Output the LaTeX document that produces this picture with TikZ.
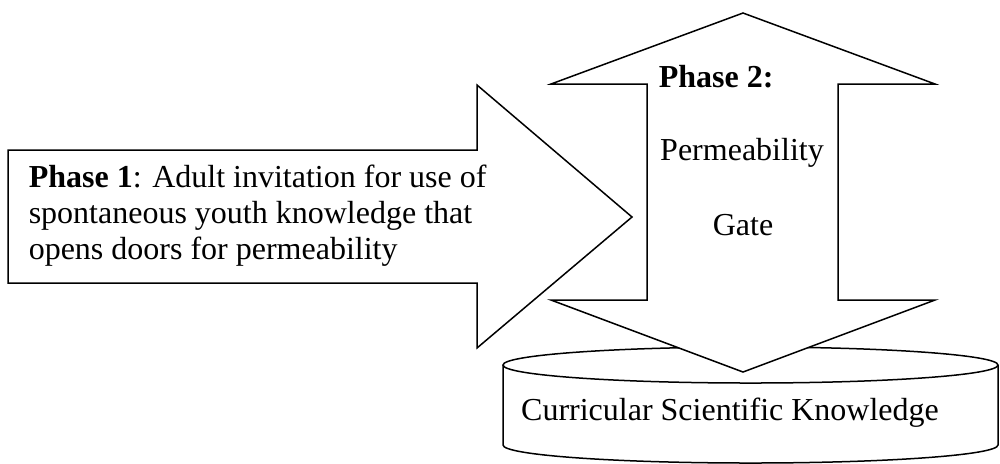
\documentclass[tikz,border=0pt]{standalone}
\usepackage{fontspec}
\setmainfont{Liberation Serif}
\usetikzlibrary{calc}

\begin{document}
\begin{tikzpicture}[x=0.4pt, y=-0.4pt, line width=0.6pt,
        shape_style/.style={draw=black, fill=white, line join=miter},
        text_style/.style={inner sep=0pt, font=\fontsize{12.8}{14.4}\selectfont},
        bold_style/.style={inner sep=0pt, font=\fontsize{12.8}{14.4}\selectfont\bfseries}]
        \useasboundingbox (0,0) rectangle (1000,463);

        % knowledge base (cylinder)
        \draw [shape_style] (503,365) -- (503,445) arc[start angle=180, end angle=0, x radius=247.5, y radius=18] -- (998,365);
        \draw [shape_style] (750.5,365) ellipse [x radius=247.5, y radius=18];

        % phase 2: double arrow
        \draw [shape_style] (743,13) -- (935,84) -- (838,84) -- (838,300) -- (935,300) -- (743,372)
            -- (551,300) -- (647,300) -- (647,84) -- (551,84) -- cycle;

        % phase 1: right arrow
        \draw [shape_style] (8,150) -- (477,150) -- (477,85) -- (632,217) -- (477,348) -- (477,283) -- (8,283) -- cycle;

        \node [text_style, align=left, anchor=north west] (p1) at (28,164)
            {\textbf{Phase 1}: Adult invitation for use of\\spontaneous youth knowledge that\\opens doors for permeability};
        \node [bold_style, anchor=base west] (p2) at (658,87) {Phase 2:};
        \node [text_style, anchor=base] (perm) at (742,160) {Permeability};
        \node [text_style, anchor=base] (gate) at (743,235) {Gate};
        \node [text_style, anchor=base] (ck) at (730,420) {Curricular Scientific Knowledge};
\end{tikzpicture}
\end{document}
